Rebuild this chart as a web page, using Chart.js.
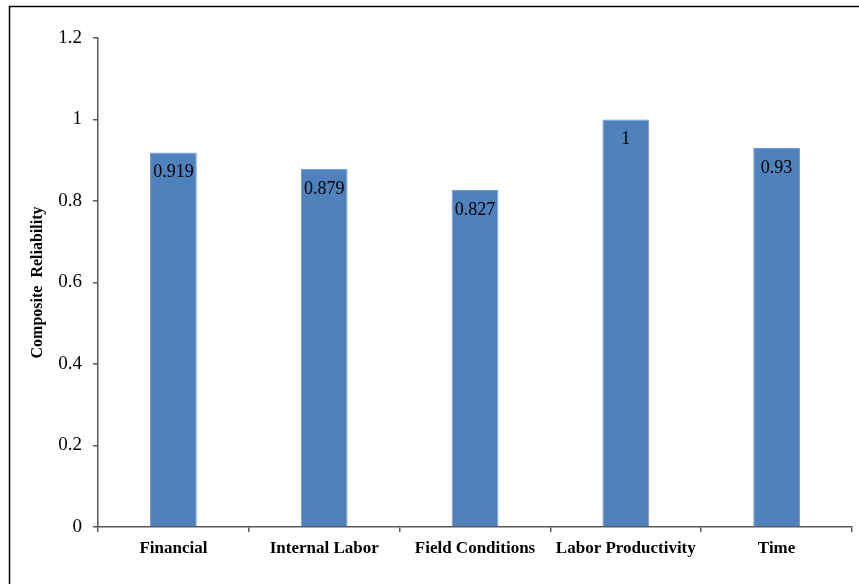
<!DOCTYPE html>
<html>
<head>
<meta charset="utf-8">
<script src="https://cdn.jsdelivr.net/npm/chart.js@4/dist/chart.umd.min.js"></script>
<style>
  html, body { margin: 0; padding: 0; background: #fff; }
  #wrap { width: 859px; height: 584px; }
</style>
</head>
<body>
<div id="wrap"><canvas id="relChart" width="859" height="584"></canvas></div>
<script>
// ── data ──────────────────────────────────────────────
const categories = ['Financial', 'Internal Labor', 'Field Conditions', 'Labor Productivity', 'Time'];
const reliability = [0.919, 0.879, 0.827, 1, 0.93];
const valueLabels = ['0.919', '0.879', '0.827', '1', '0.93'];
const yTicks = [0, 0.2, 0.4, 0.6, 0.8, 1, 1.2];

const serif = "'Liberation Serif', 'Times New Roman', serif";

// outer frame + value labels inside the bars
const framePlugin = {
  id: 'frame',
  beforeDraw(chart) {
    const ctx = chart.ctx;
    ctx.save();
    ctx.fillStyle = '#fff';
    ctx.fillRect(0, 0, chart.width, chart.height);
    ctx.strokeStyle = '#000';
    ctx.lineWidth = 1.5;
    ctx.strokeRect(9.5, 6.5, 1000, 1000);
    ctx.restore();
  },
};

const barLabelPlugin = {
  id: 'barLabels',
  afterDatasetsDraw(chart) {
    const ctx = chart.ctx;
    const meta = chart.getDatasetMeta(0);
    ctx.save();
    ctx.font = '18px ' + serif;
    ctx.fillStyle = '#000';
    ctx.textAlign = 'center';
    ctx.textBaseline = 'middle';
    meta.data.forEach((bar, i) => {
      ctx.fillText(valueLabels[i], bar.x, bar.y + 20);
    });
    ctx.restore();
  },
};

new Chart(document.getElementById('relChart'), {
  type: 'bar',
  data: {
    labels: categories,
    datasets: [{
      data: reliability,
      backgroundColor: '#4f81bd',
      borderColor: '#7199cb',
      borderWidth: 1,
      barPercentage: 0.62,
      categoryPercentage: 0.5,
    }],
  },
  plugins: [framePlugin, barLabelPlugin],
  options: {
    responsive: false,
    animation: false,
    events: [],
    layout: { padding: { left: 28, top: 38, right: 7, bottom: 0 } },
    plugins: { legend: { display: false }, tooltip: { enabled: false } },
    scales: {
      x: {
        grid: { drawOnChartArea: false, drawTicks: true, tickLength: 5, color: '#595959', lineWidth: 1.5 },
        border: { color: '#595959', width: 1.5 },
        ticks: { color: '#000', padding: 6, font: { family: serif, size: 17, weight: 'bold' }, maxRotation: 0 },
        afterFit(scale) { scale.height = 57; },
      },
      y: {
        min: 0,
        max: 1.2,
        afterBuildTicks(scale) { scale.ticks = yTicks.map(v => ({ value: v })); },
        grid: { drawOnChartArea: false, drawTicks: true, tickLength: 5, color: '#595959', lineWidth: 1.5 },
        border: { color: '#595959', width: 1.5 },
        ticks: {
          color: '#000',
          padding: 11,
          font: { family: serif, size: 19 },
          callback: v => String(+v.toFixed(1)),
        },
        title: {
          display: true,
          text: 'Composite  Reliability',
          color: '#000',
          padding: 0,
          font: { family: serif, size: 16, weight: 'bold' },
        },
        afterFit(scale) { scale.width = 70; },
      },
    },
  },
});
</script>
</body>
</html>
